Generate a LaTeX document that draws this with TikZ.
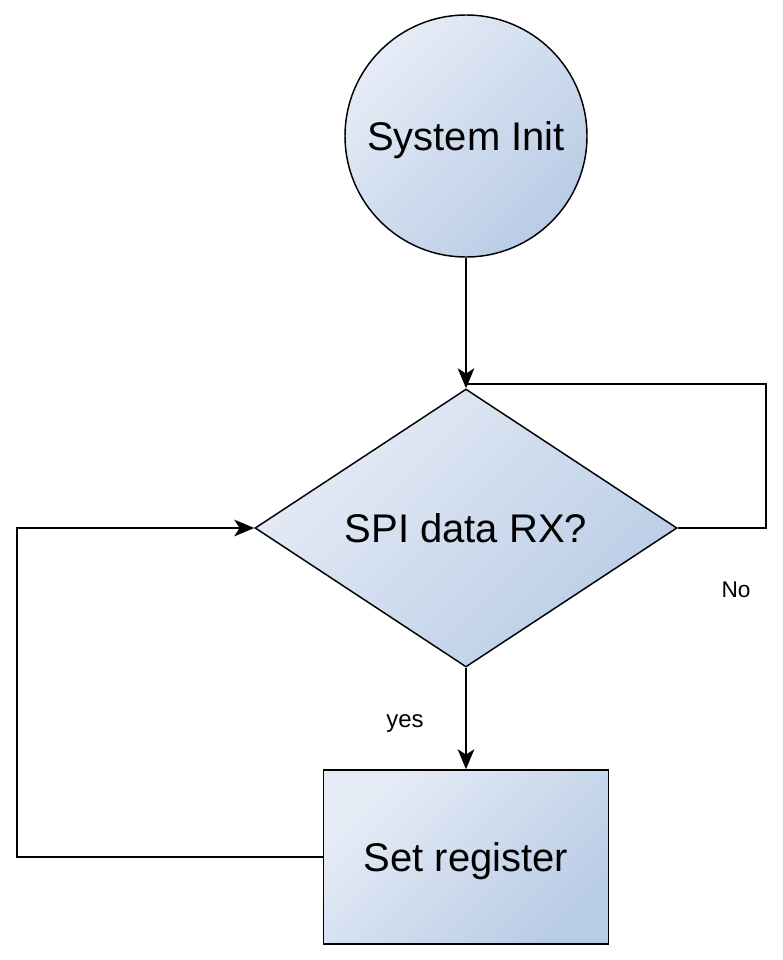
\documentclass[tikz,border=0pt]{standalone}
\usepackage{fontspec}
\setmainfont{Liberation Sans}
\usetikzlibrary{shapes.geometric,arrows.meta}
\definecolor{gradA}{HTML}{E6ECF6}
\definecolor{gradB}{HTML}{B9CCE6}
\tikzset{
  shapebox/.style={draw=black, line width=1.1pt, top color=gradA, bottom color=gradB, shading angle=45,
    inner sep=0pt, text depth=0pt, font=\fontsize{30}{36}\selectfont},
  conn/.style={draw=black, line width=1.1pt},
  arr/.style={conn, -{Stealth[length=15pt,width=12.5pt,inset=4pt]}},
  lbl/.style={font=\fontsize{17}{20}\selectfont, inner sep=0pt, text depth=0pt}
}
\begin{document}
\begin{tikzpicture}[x=0.75pt,y=-0.75pt]
\useasboundingbox (0,0) rectangle (782,960);
\node[shapebox, circle, minimum size=181.5pt] (init) at (466,136) {System Init};
\node[shapebox, diamond, minimum width=316.5pt, minimum height=208.5pt, aspect=1.52] (dec) at (466,528) {SPI data RX?};
\node[shapebox, rectangle, minimum width=213.75pt, minimum height=130.5pt] (reg) at (466,857) {Set register};
\coordinate (R) at (766,384);
\coordinate (L) at (17,857);
\draw[arr] (init.south) -- (dec.north);
\draw[conn] (dec.east) -| (R) -- (dec.north |- R);
\draw[arr] (dec.south) -- (reg.north);
\draw[arr] (reg.west) -- (L) |- (dec.west);
\node[lbl, font=\fontsize{18}{20}\selectfont] (yes) at (405,721) {yes};
\node[lbl] (no) at (736,590) {No};
\end{tikzpicture}
\end{document}
